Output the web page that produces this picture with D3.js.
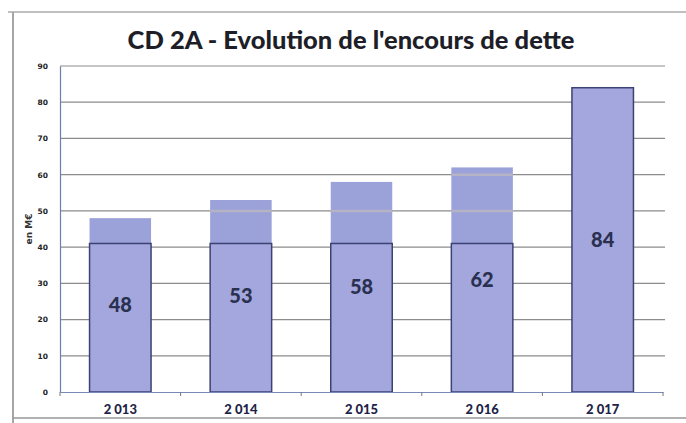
<!DOCTYPE html>
<html><head><meta charset="utf-8">
<script src="https://cdn.jsdelivr.net/npm/d3@7/dist/d3.min.js"></script>
<style>body{margin:0;background:#fff}svg{display:block}</style>
</head><body>
<svg id="c" width="686" height="423"></svg>
<script>
const title = "CD 2A - Evolution de l'encours de dette";
const yAxisLabel = "en M€";
const categories = ["2 013", "2 014", "2 015", "2 016", "2 017"];
const totals = [48, 53, 58, 62, 84];
const baseValues = [41, 41, 41, 41, 84];
const yTicks = [0, 10, 20, 30, 40, 50, 60, 70, 80, 90];

const svg = d3.select("#c");
const W = 686, H = 423;
const m = {left: 60, right: 23, top: 66, bottom: 31};
const x = d3.scaleBand().domain(categories).range([m.left, W - m.right]).paddingInner(0.49).paddingOuter(0.245);
const y = d3.scaleLinear().domain([0, 90]).range([H - m.bottom, m.top]);

// frame
svg.append("line").attr("x1",13).attr("x2",13).attr("y1",12).attr("y2",423).attr("stroke","#888").attr("stroke-width",1.5);
svg.append("line").attr("x1",8).attr("x2",686).attr("y1",12).attr("y2",12).attr("stroke","#aaa").attr("stroke-width",1.5);
svg.append("line").attr("x1",13).attr("x2",686).attr("y1",418).attr("y2",418).attr("stroke","#999").attr("stroke-width",1.5);

// title
svg.append("text").attr("x", 351).attr("y", 49).attr("text-anchor","middle")
  .attr("font-family","Lato, 'Open Sans', sans-serif").attr("font-weight","900").attr("font-size",25.5)
  .attr("fill","#1e1e28").text(title);

// gridlines
const grid = svg.append("g");
grid.selectAll("line").data(yTicks.filter(d => d > 0)).join("line")
  .attr("x1", m.left).attr("x2", W - m.right + 2)
  .attr("y1", d => y(d)).attr("y2", d => y(d))
  .attr("stroke","#8c8c8c").attr("stroke-width",1.2);

// bars: upper stippled part
const bars = svg.append("g");
bars.selectAll("rect.top").data(categories).join("rect").attr("class","top")
  .attr("x", d => x(d)).attr("width", x.bandwidth())
  .attr("y", (d,i) => y(totals[i])).attr("height", (d,i) => y(baseValues[i]) - y(totals[i]))
  .attr("fill","#9ba1d9");
// gridlines faintly through upper parts
bars.selectAll("g.gl").data(categories).join("g").attr("class","gl").each(function(d,i){
  const vals = yTicks.filter(t => t > baseValues[i] && t < totals[i]);
  d3.select(this).selectAll("line").data(vals).join("line")
    .attr("x1", x(d)).attr("x2", x(d) + x.bandwidth())
    .attr("y1", t => y(t)).attr("y2", t => y(t))
    .attr("stroke","#b4b4c4").attr("stroke-width",2.5);
});
// base outlined part
bars.selectAll("rect.base").data(categories).join("rect").attr("class","base")
  .attr("x", d => x(d)).attr("width", x.bandwidth())
  .attr("y", (d,i) => y(baseValues[i])).attr("height", (d,i) => y(0) - y(baseValues[i]))
  .attr("fill","#a3a7dd").attr("stroke","#3c4272").attr("stroke-width",1.5);

// axis
const yAxis = d3.axisLeft(y).tickValues(yTicks).tickSize(0).tickPadding(12);
const gy = svg.append("g").attr("transform", `translate(${m.left},0)`).call(yAxis);
gy.select(".domain").attr("stroke","#6a7fb0").attr("stroke-width",1.2);
gy.selectAll("text").attr("font-family","'DejaVu Sans', sans-serif").attr("font-weight","bold").attr("font-size",7.5).attr("fill","#222");

const xAxis = d3.axisBottom(x).tickSize(0).tickPadding(13);
const gx = svg.append("g").attr("transform", `translate(0,${y(0)})`).call(xAxis);
gx.select(".domain").attr("stroke","#7a8ab8").attr("stroke-width",1.2);
gx.selectAll("text").attr("font-family","Lato, sans-serif").attr("font-weight","900").attr("font-size",13).attr("fill","#1e2448");
// category boundary ticks
const bounds = categories.map(c => x(c) - x.step()*x.paddingInner()/2).concat([W - m.right]);
svg.append("g").selectAll("line").data(bounds).join("line")
  .attr("x1", d => d).attr("x2", d => d).attr("y1", y(0)).attr("y2", y(0) + 4)
  .attr("stroke","#777").attr("stroke-width",1);

// y label
svg.append("text").attr("transform", `translate(32,${y(45)}) rotate(-90)`).attr("text-anchor","middle")
  .attr("font-family","'DejaVu Sans', sans-serif").attr("font-weight","bold").attr("font-size",9).attr("fill","#333").text(yAxisLabel);

// value labels
svg.append("g").selectAll("text").data(categories).join("text")
  .attr("x", d => x(d) + x.bandwidth()/2).attr("y", (d,i) => y(totals[i]/2) + 7)
  .attr("text-anchor","middle").attr("font-family","Lato, sans-serif").attr("font-weight","900")
  .attr("font-size",20).attr("fill","#2a3050").text((d,i) => totals[i]);
</script>
</body></html>
